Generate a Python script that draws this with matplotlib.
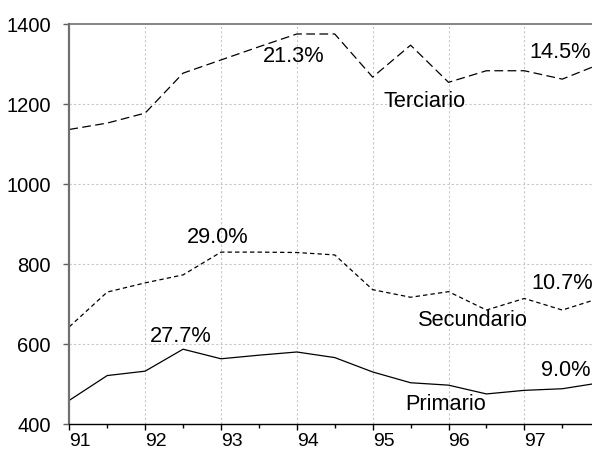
import matplotlib
matplotlib.use("Agg")
import matplotlib.pyplot as plt
import numpy as np

plt.rcParams['font.family'] = ['Liberation Sans', 'DejaVu Sans']

periods = [91.0, 91.5, 92.0, 92.5, 93.0, 93.5, 94.0, 94.5, 95.0, 95.5,
           96.0, 96.5, 97.0, 97.5, 98.0]
terciario = [1136, 1152, 1177, 1277, 1310, 1343, 1375, 1375, 1267, 1347,
             1254, 1283, 1283, 1262, 1300]
secundario = [642, 729, 752, 772, 829, 829, 828, 822, 735, 716,
              730, 684, 713, 684, 714]
primario = [458, 520, 531, 586, 562, 571, 579, 565, 529, 502,
            496, 474, 483, 487, 502]

year_ticks = [91, 92, 93, 94, 95, 96, 97]
year_labels = ['91', '92', '93', '94', '95', '96', '97']
y_ticks = [400, 600, 800, 1000, 1200, 1400]

annotations = [
    ('21.3%', 93.96, 1322),
    ('Terciario', 95.69, 1208),
    ('14.5%', 97.47, 1332),
    ('29.0%', 92.95, 867),
    ('10.7%', 97.50, 754),
    ('Secundario', 96.32, 660),
    ('27.7%', 92.47, 621),
    ('9.0%', 97.54, 535),
    ('Primario', 95.96, 449),
]

fig = plt.figure(figsize=(5.92, 4.52), dpi=100)
ax = fig.add_axes([69.3 / 592, 27.5 / 452, (600.2 - 69.3) / 592, (424.5 - 25) / 452])

ax.plot(periods, terciario, color='black', lw=0.9, dashes=(7, 3.5))
ax.plot(periods, secundario, color='black', lw=0.9, dashes=(3.5, 2.5))
ax.plot(periods, primario, color='black', lw=0.9)

ax.set_xlim(91, 98)
ax.set_ylim(400, 1400)

ax.set_xticks(year_ticks)
ax.set_xticklabels(year_labels, ha='left', fontsize=14)
ax.set_xticks([x + 0.5 for x in year_ticks], minor=True)
ax.set_yticks(y_ticks)
ax.set_yticklabels([str(v) for v in y_ticks], fontsize=14.5)

ax.tick_params(axis='x', which='major', direction='out', length=4.3, width=1, pad=1.5)
ax.tick_params(axis='x', which='minor', direction='out', length=3.1, width=1)
ax.tick_params(axis='y', which='major', direction='out', length=4.3, width=1, pad=9,
               color='#606060')

for x in year_ticks[1:]:
    ax.axvline(x, color='#c8c8c8', lw=0.8, ls=(0, (2, 2)), zorder=0)
for y in y_ticks[1:-1]:
    ax.axhline(y, color='#c8c8c8', lw=0.8, ls=(0, (2, 2)), zorder=0)

ax.spines['left'].set_color('#707070')
ax.spines['left'].set_linewidth(1.6)
ax.spines['top'].set_color('#707070')
ax.spines['top'].set_linewidth(1.2)
ax.spines['bottom'].set_color('black')
ax.spines['bottom'].set_linewidth(1.0)
ax.spines['right'].set_visible(False)

for txt, x, y in annotations:
    ax.text(x, y, txt, ha='center', va='center', fontsize=15.7)

fig.savefig('out.png', dpi=100)
